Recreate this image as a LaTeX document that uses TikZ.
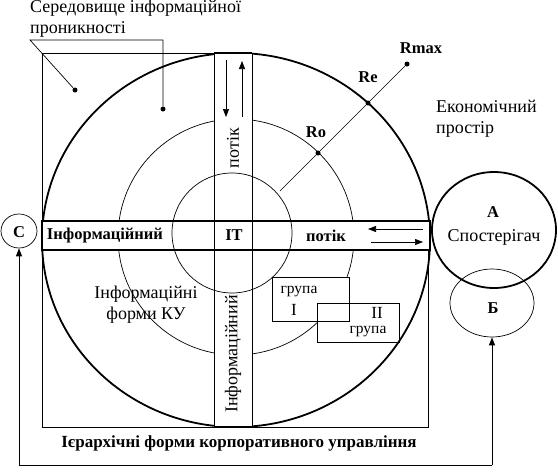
\documentclass[tikz,border=0pt]{standalone}
\usepackage{fontspec}
\setmainfont{Liberation Serif}
\usetikzlibrary{arrows.meta,shapes.geometric}
\begin{document}
\begin{tikzpicture}[x=1pt,y=-1pt,
  thinline/.style={line width=0.7pt},
  frameline/.style={line width=1pt},
  boldline/.style={line width=1.8pt},
  arr/.style={-{Triangle[length=8pt,width=6pt]}},
  txt/.style={font=\fontsize{18}{21}\selectfont, inner sep=0pt},
  btxt/.style={font=\fontsize{16.5}{20}\selectfont\bfseries, inner sep=0pt},
  stxt/.style={font=\fontsize{15.5}{18}\selectfont, inner sep=0pt},
  dotmark/.style={circle, fill=black, inner sep=0pt, minimum size=5pt},
  ring/.style={ellipse, draw, inner sep=0pt}
]
\useasboundingbox (0,0) rectangle (558,474);

% outer frame (partly visible)
\draw[frameline] (428,250) -- (428,427) -- (42,427) -- (42,53) -- (214,53);

% medium circle
\draw[thinline] (236,237) circle [radius=118pt];

% group boxes
\fill[white] (272,277) rectangle (349,321);
\fill[white] (317,303) rectangle (399,342);
\draw[frameline] (272,277) rectangle (349,321);
\draw[frameline] (317,303) rectangle (399,342);

% big circle
\draw[boldline] (236,240) ellipse [x radius=194pt, y radius=187pt];

% bands
\fill[white] (214,53) rectangle (252,427);
\fill[white] (42,221) rectangle (430,250);
\draw[frameline] (214,53) rectangle (252,427);
\draw[boldline] (214,53) -- (252,53);
\draw[boldline] (214,427) -- (252,427);
\draw[boldline] (42,221) rectangle (430,250);

% small circle
\draw[thinline] (232,233) circle [radius=60pt];

% radius line with points
\coordinate (r0) at (280,191);
\node[dotmark] (Ro)   at (318,153) {};
\node[dotmark] (Re)   at (368,103) {};
\node[dotmark] (Rmax) at (407,64) {};
\draw[thinline] (r0) -- (Ro) -- (Re) -- (Rmax);
\node[btxt] (lRo)   at (316,132) {Ro};
\node[btxt] (lRe)   at (368,77) {Re};
\node[btxt] (lRmax) at (421,48) {Rmax};

% environment label with leaders
\node[txt, anchor=north west, align=left] (env) at (30,0) {Середовище інформаційної\\проникності};
\coordinate (e1) at (30,40);
\coordinate (e2) at (163,40);
\node[dotmark] (d1) at (75,90) {};
\node[dotmark] (d2) at (163,109) {};
\draw[thinline] (d1) -- (e1) -- (e2) -- (d2);

% economic space
\node[txt, anchor=west, align=left] (eco) at (436,119) {Економічний\\простір};

% vertical band arrows and texts
\coordinate (va1) at (226,60);  \coordinate (va2) at (226,117);
\coordinate (vb1) at (242,117); \coordinate (vb2) at (242,61);
\draw[thinline,arr] (va1) -- (va2);
\draw[thinline,arr] (vb1) -- (vb2);
\node[txt, rotate=90] (vpotik) at (233,148) {потік};
\node[txt, rotate=90] (vinf) at (233,354) {Інформаційний};

% horizontal band texts and arrows
\node[btxt] (hinf) at (105,236) {Інформаційний};
\node[btxt] (it) at (234,235) {IT};
\node[btxt] (hpotik) at (326,236) {потік};
\coordinate (ha1) at (423,229); \coordinate (ha2) at (368,229);
\coordinate (hb1) at (371,242); \coordinate (hb2) at (423,242);
\draw[thinline,arr] (ha1) -- (ha2);
\draw[thinline,arr] (hb1) -- (hb2);

% info forms
\node[txt, align=center] (forms) at (146,305) {Інформаційні\\форми КУ};

% group labels
\node[stxt] (g1) at (299,292) {група};
\node[stxt, font=\fontsize{17}{20}\selectfont] (g1n) at (294,310) {I};
\node[stxt, font=\fontsize{17}{20}\selectfont] (g2n) at (377,313) {II};
\node[stxt] (g2) at (368,332) {група};

% observer circles
\node[ring, boldline, minimum width=124pt, minimum height=116pt] (A) at (494,230) {};
\node[btxt] (lA) at (493,212) {А};
\node[txt] (lobs) at (494,237) {Спостерігач};
\node[ring, thinline, minimum width=84pt, minimum height=68pt] (B) at (492,303) {};
\node[btxt] (lB) at (493,308) {Б};
\node[ring, thinline, minimum width=36pt, minimum height=34pt] (C) at (19,231) {};
\node[btxt] (lC) at (19,232) {С};

% bottom label
\node[btxt, font=\fontsize{17}{20}\selectfont\bfseries] (hier) at (239,443) {Ієрархічні форми корпоративного управління};

% feedback loop
\coordinate (lb) at (C.south |- 0,465);
\coordinate (rb) at (B.south |- 0,465);
\draw[frameline,arr] (lb) -- (C.south);
\draw[frameline] (lb) -- (rb);
\draw[frameline,arr] (rb) -- (B.south);
\end{tikzpicture}
\end{document}
